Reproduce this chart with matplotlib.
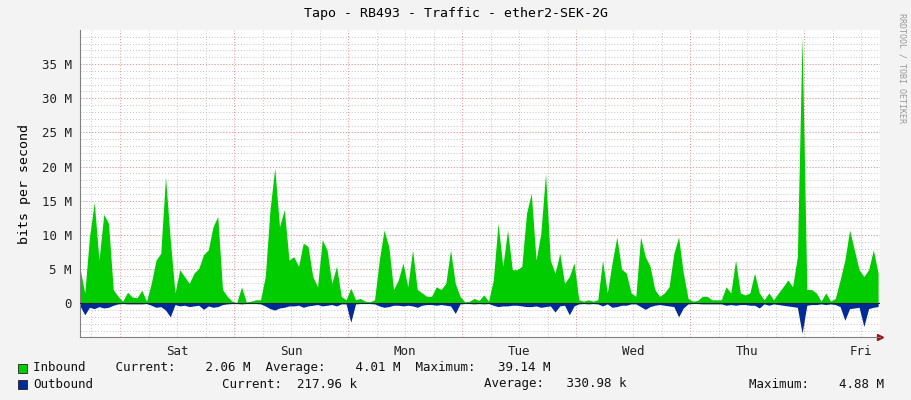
import numpy as np
import matplotlib.pyplot as plt

# hourly samples, values in Mbit/s, hour 0 = Fri ~13:30
inbound = [5.1, 1.5, 9.7, 14.8, 6.3, 13.0, 11.7, 2.0, 1.0, 0.3,
           1.6, 0.9, 0.8, 1.9, 0.3, 2.9, 6.3, 7.3, 18.5, 9.3,
           1.5, 4.9, 3.9, 2.9, 4.4, 5.1, 7.1, 7.8, 11.2, 12.7,
           2.0, 1.0, 0.3, 0.1, 2.4, 0.2, 0.3, 0.5, 0.5, 3.9,
           13.7, 19.8, 11.2, 13.7, 6.3, 6.8, 5.4, 8.8, 8.3, 3.9,
           2.4, 9.3, 7.8, 2.9, 5.4, 1.0, 0.5, 2.2, 0.5, 0.7,
           0.3, 0.2, 0.5, 6.3, 10.7, 8.3, 2.0, 3.4, 5.9, 2.4,
           7.8, 2.0, 1.5, 1.0, 1.0, 2.4, 2.0, 2.9, 7.8, 2.9,
           1.0, 0.2, 0.3, 0.7, 0.4, 1.2, 0.3, 3.4, 11.7, 5.4,
           10.7, 4.9, 4.9, 5.4, 13.2, 16.1, 6.3, 10.2, 19.0, 6.3,
           4.4, 7.3, 2.9, 3.9, 5.9, 0.5, 0.3, 0.5, 0.3, 0.5,
           6.3, 1.5, 5.9, 9.7, 5.0, 4.4, 1.5, 1.0, 9.7, 6.8,
           5.4, 2.0, 1.0, 1.5, 2.4, 7.3, 9.7, 4.4, 0.7, 0.3,
           0.4, 1.0, 1.0, 0.5, 0.5, 0.5, 2.4, 1.5, 6.3, 1.5,
           1.2, 1.5, 4.4, 1.5, 0.5, 1.5, 0.5, 1.5, 2.4, 3.4,
           2.4, 6.8, 39.14, 2.0, 2.0, 1.5, 0.3, 1.5, 0.3, 0.7,
           3.4, 6.3, 10.7, 7.8, 4.9, 3.9, 4.9, 7.8, 4.4]
outbound = [0.4, 1.7, 0.6, 0.8, 0.5, 0.7, 0.6, 0.3, 0.1, 0.05,
            0.1, 0.1, 0.1, 0.1, 0.05, 0.3, 0.6, 0.5, 1.0, 2.0,
            0.2, 0.4, 0.3, 0.5, 0.4, 0.3, 0.9, 0.4, 0.6, 0.5,
            0.2, 0.1, 0.05, 0.05, 0.1, 0.05, 0.05, 0.05, 0.1, 0.4,
            0.8, 1.0, 0.7, 0.6, 0.4, 0.4, 0.3, 0.6, 0.4, 0.3,
            0.2, 0.4, 0.3, 0.2, 0.4, 0.1, 0.1, 2.8, 0.1, 0.05,
            0.05, 0.05, 0.1, 0.4, 0.6, 0.5, 0.3, 0.3, 0.4, 0.3,
            0.4, 0.6, 0.3, 0.2, 0.2, 0.3, 0.2, 0.3, 0.4, 1.5,
            0.1, 0.05, 0.05, 0.1, 0.05, 0.1, 0.05, 0.3, 0.5, 0.4,
            0.4, 0.3, 0.3, 0.4, 0.5, 0.5, 0.4, 0.6, 0.5, 0.4,
            1.3, 0.4, 0.3, 1.7, 0.4, 0.1, 0.05, 0.1, 0.05, 0.1,
            0.4, 0.1, 0.6, 0.5, 0.3, 0.3, 0.1, 0.1, 0.5, 0.9,
            0.5, 0.3, 0.2, 0.3, 0.4, 0.5, 2.0, 0.7, 0.1, 0.05,
            0.05, 0.1, 0.1, 0.1, 0.1, 0.1, 0.3, 0.2, 0.3, 0.2,
            0.2, 0.3, 0.3, 0.7, 0.1, 0.3, 0.1, 0.2, 0.3, 0.4,
            0.5, 0.6, 4.4, 0.3, 0.2, 0.2, 0.1, 0.2, 0.1, 0.2,
            0.5, 2.5, 0.8, 0.7, 0.6, 3.4, 0.8, 0.6, 0.5]
day_labels = ["Sat", "Sun", "Mon", "Tue", "Wed", "Thu", "Fri"]
first_midnight = 8.42  # hours from start to Sat 00:00

hours = np.arange(len(inbound))
inb = np.array(inbound)
outb = -np.array(outbound)

fig = plt.figure(figsize=(9.11, 4.0), dpi=100, facecolor="#f3f3f3")
ax = fig.add_axes([80 / 911, 63 / 400, 800 / 911, 307 / 400])
ax.set_facecolor("white")

ax.set_xlim(0, 168.4)
ax.set_ylim(-4.95, 40)

# grid: 1M minor, 5M major, 6h minor, midnight major (red)
for v in np.arange(-4, 40, 1):
    ax.axhline(v, color="#c4c4c4", lw=0.7, ls=(0, (1, 2)), zorder=0)
for v in np.arange(5, 40, 5):
    ax.axhline(v, color="#f09090", lw=0.7, ls=(0, (1, 2)), zorder=0)
midnights = first_midnight + 24 * np.arange(7)
for m in midnights:
    for k in (-6, 6, 12):
        if 0 < m + k < 168.4:
            ax.axvline(m + k, color="#c4c4c4", lw=0.7, ls=(0, (1, 2)), zorder=0)
    ax.axvline(m, color="#f09090", lw=0.7, ls=(0, (1, 2)), zorder=0)

ax.fill_between(hours, 0, inb, color="#00cc00", lw=0, zorder=2)
ax.fill_between(hours, 0, outb, color="#002a97", lw=0, zorder=2)
ax.axhline(0, color="#202040", lw=0.8, zorder=3)

ax.set_yticks(np.arange(0, 40, 5))
ax.set_yticklabels(["0"] + [f"{v} M" for v in range(5, 40, 5)])
ax.set_xticks(midnights + 12)
ax.set_xticklabels(day_labels)
ax.tick_params(length=0, labelsize=9, colors="#222222", pad=6)
for lab in ax.get_xticklabels() + ax.get_yticklabels():
    lab.set_family("DejaVu Sans Mono")

for s in ("top", "right"):
    ax.spines[s].set_visible(False)
ax.spines["left"].set_color("#808080")
ax.spines["bottom"].set_color("#808080")
ax.plot(1, 0, ">", color="#a01010", ms=5, transform=ax.transAxes, clip_on=False)

ax.set_ylabel("bits per second", family="DejaVu Sans Mono", fontsize=9.5, labelpad=8)
fig.text(0.5, 1 - 14 / 400, "Tapo - RB493 - Traffic - ether2-SEK-2G",
         ha="center", va="center", family="DejaVu Sans Mono", fontsize=9.5)
fig.text(1 - 9 / 911, 0.83, "RRDTOOL / TOBI OETIKER", rotation=270, ha="center",
         va="center", family="DejaVu Sans Mono", fontsize=6, color="#999999")

# legend rows
mono = dict(family="DejaVu Sans Mono", fontsize=9, va="center", color="#111111")
fig.patches.append(plt.Rectangle((18 / 911, 1 - 373 / 400), 9 / 911, 9 / 400,
                                 transform=fig.transFigure, facecolor="#00cc00",
                                 edgecolor="#222222", lw=0.6))
fig.patches.append(plt.Rectangle((18 / 911, 1 - 389 / 400), 9 / 911, 9 / 400,
                                 transform=fig.transFigure, facecolor="#002a97",
                                 edgecolor="#222222", lw=0.6))
fig.text(33 / 911, 1 - 368 / 400,
         "Inbound    Current:    2.06 M  Average:    4.01 M  Maximum:   39.14 M", **mono)
fig.text(33 / 911, 1 - 384 / 400, "Outbound", **mono)
fig.text(222 / 911, 1 - 384 / 400, "Current:  217.96 k", **mono)
fig.text(484 / 911, 1 - 384 / 400, "Average:   330.98 k", **mono)
fig.text(749 / 911, 1 - 384 / 400, "Maximum:    4.88 M", **mono)

fig.savefig("out.png", dpi=100, facecolor=fig.get_facecolor())
